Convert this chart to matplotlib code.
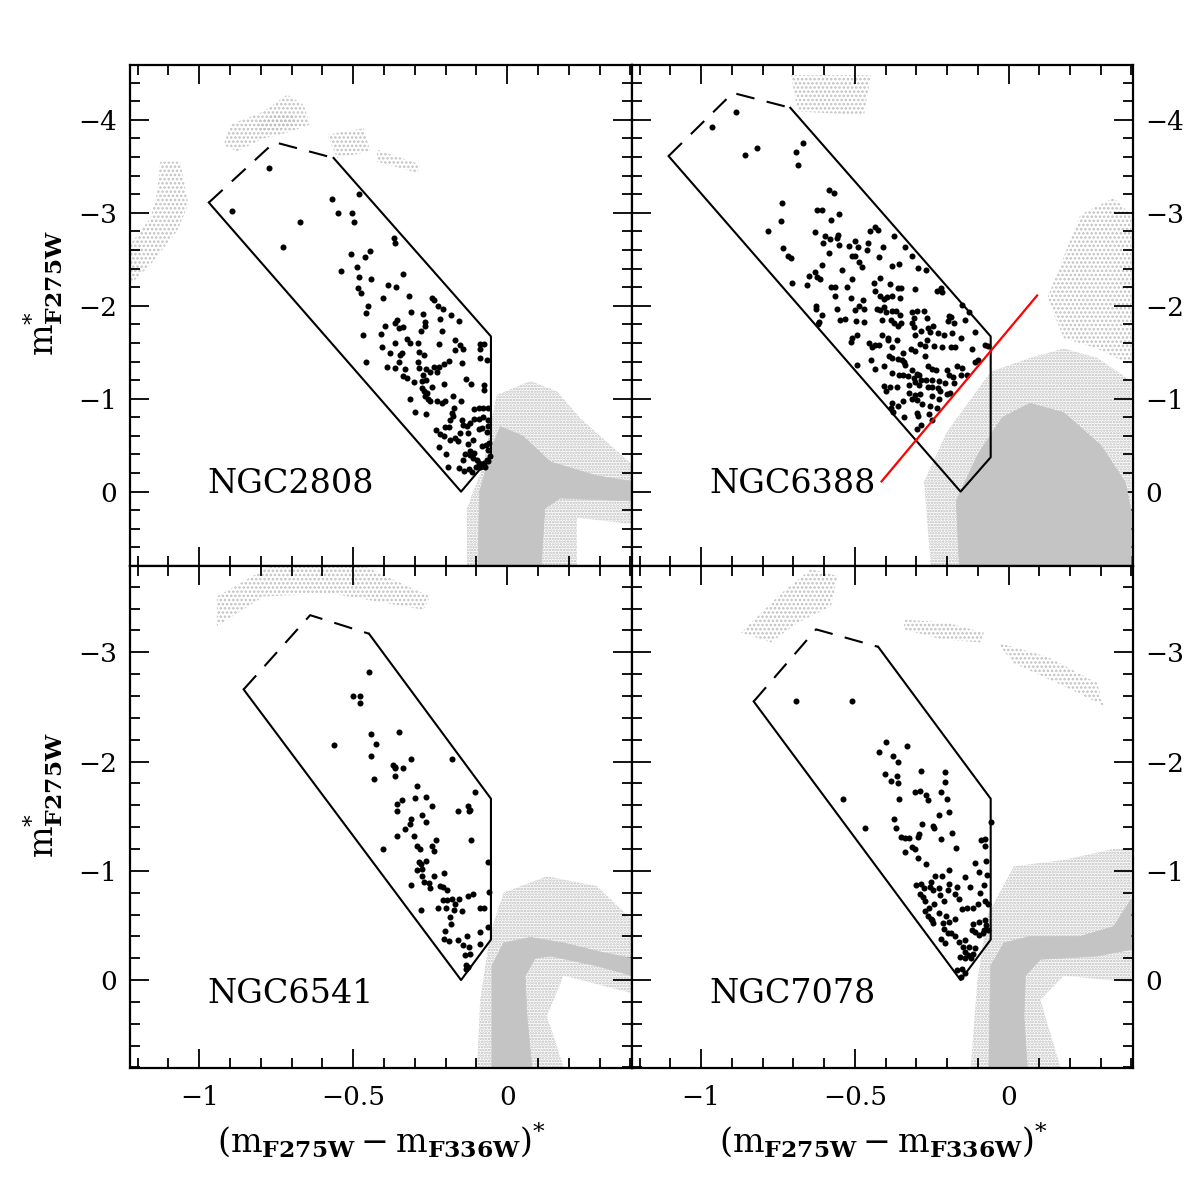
import numpy as np
import matplotlib
matplotlib.use('Agg')
import matplotlib.pyplot as plt
from matplotlib.patches import Polygon
from matplotlib.ticker import MultipleLocator, FixedLocator, FixedFormatter

plt.rcParams['font.family'] = 'DejaVu Serif'
plt.rcParams['mathtext.fontset'] = 'dejavuserif'
plt.rcParams['hatch.linewidth'] = 1.2

# ---------------- NGC2808 ----------------
n2808_stars = [(-0.569,-3.15),(-0.483,-3.20),(-0.672,-2.90),(-0.551,-3.00),(-0.505,-3.00),(-0.497,-2.90),
    (-0.728,-2.63),(-0.368,-2.73),(-0.366,-2.67),(-0.508,-2.56),(-0.447,-2.59),(-0.463,-2.52),(-0.540,-2.37),
    (-0.488,-2.42),(-0.481,-2.31),(-0.443,-2.29),(-0.340,-2.34),(-0.387,-2.22),(-0.360,-2.20),(-0.485,-2.19),
    (-0.474,-2.14),(-0.402,-2.08),(-0.319,-2.11),(-0.453,-2.00),(-0.460,-1.92),(-0.245,-2.08),(-0.237,-2.06),
    (-0.225,-2.00),(-0.210,-1.96),(-0.311,-1.93),(-0.275,-1.91),(-0.184,-1.90),(-0.158,-1.84),(-0.218,-1.86),
    (-0.358,-1.85),(-0.364,-1.81),(-0.352,-1.76),(-0.339,-1.77),(-0.397,-1.78),(-0.266,-1.82),(-0.268,-1.78),
    (-0.280,-1.73),(-0.212,-1.73),(-0.469,-1.69),(-0.409,-1.70),(-0.326,-1.64),(-0.317,-1.60),(-0.289,-1.60),
    (-0.363,-1.60),(-0.222,-1.59),(-0.169,-1.63),(-0.154,-1.58),(-0.407,-1.56),(-0.087,-1.59),(-0.076,-1.59),
    (-0.380,-1.49),(-0.347,-1.47),(-0.342,-1.49),(-0.286,-1.50),(-0.272,-1.47),(-0.169,-1.52),(-0.144,-1.53),
    (-0.090,-1.53),(-0.089,-1.44),(-0.065,-1.42),(-0.148,-1.38),(-0.189,-1.41),(-0.205,-1.37),(-0.223,-1.34),
    (-0.239,-1.34),(-0.289,-1.39),(-0.352,-1.39),(-0.391,-1.34),(-0.364,-1.33),(-0.331,-1.32),(-0.459,-1.39),
    (-0.285,-1.33),(-0.264,-1.32),(-0.250,-1.29),(-0.228,-1.29),(-0.274,-1.25),(-0.337,-1.24),(-0.326,-1.22),
    (-0.263,-1.20),(-0.277,-1.19),(-0.302,-1.18),(-0.245,-1.13),(-0.207,-1.16),(-0.133,-1.21),(-0.118,-1.16),
    (-0.075,-1.15),(-0.076,-1.09),(-0.277,-1.11),(-0.272,-1.08),(-0.261,-1.06),(-0.267,-1.03),(-0.259,-1.00),
    (-0.252,-0.97),(-0.228,-0.97),(-0.212,-0.95),(-0.201,-0.97),(-0.176,-1.03),(-0.150,-0.98),(-0.316,-1.00),
    (-0.299,-0.86),(-0.264,-0.83),(-0.172,-0.90),(-0.180,-0.85),(-0.176,-0.81),(-0.185,-0.77),(-0.109,-0.89),
    (-0.093,-0.90),(-0.079,-0.90),(-0.061,-0.90),(-0.109,-0.78),(-0.093,-0.78),(-0.080,-0.80),(-0.064,-0.77),
    (-0.147,-0.77),(-0.144,-0.72),(-0.131,-0.71),(-0.120,-0.74),(-0.203,-0.70),(-0.190,-0.70),(-0.231,-0.66),
    (-0.218,-0.62),(-0.207,-0.60),(-0.185,-0.56),(-0.169,-0.58),(-0.153,-0.63),(-0.160,-0.55),(-0.129,-0.63),
    (-0.111,-0.56),(-0.093,-0.67),(-0.083,-0.68),(-0.061,-0.71),(-0.065,-0.64),(-0.221,-0.48),(-0.198,-0.40),
    (-0.129,-0.51),(-0.120,-0.44),(-0.107,-0.42),(-0.082,-0.49),(-0.068,-0.50),(-0.058,-0.52),(-0.061,-0.45),
    (-0.194,-0.27),(-0.144,-0.34),(-0.136,-0.41),(-0.122,-0.39),(-0.111,-0.36),(-0.098,-0.34),(-0.093,-0.31),
    (-0.082,-0.28),(-0.071,-0.27),(-0.061,-0.33),(-0.158,-0.25),(-0.142,-0.22),(-0.124,-0.24),(-0.113,-0.21),
    (-0.101,-0.27),(-0.090,-0.27),(-0.076,-0.31),(-0.066,-0.34),(-0.055,-0.38),(-0.774,-3.48),(-0.894,-3.02)]
n2808_box = [(-0.969,-3.11),(-0.756,-3.76),(-0.564,-3.59),(-0.053,-1.67),(-0.053,-0.38),(-0.150,0.00)]
n2808_core = [(-0.050,-0.47),(-0.090,0.00),(-0.095,0.80),(0.110,0.80),(0.122,0.18),(0.172,0.07),(0.406,0.10),
    (0.406,-0.11),(0.291,-0.17),(0.140,-0.32),(0.050,-0.60),(-0.023,-0.70)]
n2808_halo = [(-0.055,-0.72),(-0.034,-1.04),(0.075,-1.19),(0.161,-1.08),(0.237,-0.79),(0.406,-0.29),(0.406,0.35),
    (0.226,0.28),(0.226,0.80),(-0.131,0.80),(-0.131,0.18),(-0.077,-0.29)]
n2808_sparse = [
    [(-0.921,-3.73),(-0.899,-3.95),(-0.791,-4.09),(-0.715,-4.27),(-0.661,-4.16),(-0.640,-3.95),(-0.705,-3.87),(-0.791,-3.80),(-0.878,-3.66)],
    [(-0.813,-3.98),(-0.759,-4.05),(-0.694,-4.05),(-0.683,-3.95),(-0.748,-3.89),(-0.802,-3.89)],
    [(-1.127,-3.55),(-1.062,-3.55),(-1.035,-3.09),(-1.073,-2.80),(-1.159,-2.44),(-1.224,-2.23),(-1.224,-2.66),(-1.159,-2.94),(-1.137,-3.22)],
    [(-0.585,-3.84),(-0.466,-3.91),(-0.445,-3.66),(-0.553,-3.59)],
    [(-0.423,-3.68),(-0.282,-3.52),(-0.293,-3.43),(-0.423,-3.55)]]

# ---------------- NGC6388 ----------------
n6388_stars = [(-0.887,-4.08),(-0.965,-3.92),(-0.858,-3.62),(-0.817,-3.70),(-0.693,-3.65),(-0.669,-3.75),
    (-0.686,-3.51),(-0.584,-3.24),(-0.569,-3.21),(-0.736,-3.10),(-0.741,-2.91),(-0.782,-2.80),(-0.734,-2.62),
    (-0.716,-2.54),(-0.709,-2.51),(-0.703,-2.25),(-0.622,-3.03),(-0.608,-3.03),(-0.550,-2.99),(-0.576,-2.92),
    (-0.631,-2.79),(-0.597,-2.75),(-0.582,-2.72),(-0.554,-2.76),(-0.557,-2.73),(-0.603,-2.68),(-0.552,-2.65),
    (-0.584,-2.57),(-0.498,-2.70),(-0.519,-2.64),(-0.489,-2.63),(-0.509,-2.53),(-0.498,-2.53),(-0.458,-2.68),
    (-0.460,-2.60),(-0.452,-2.80),(-0.433,-2.85),(-0.424,-2.81),(-0.373,-2.75),(-0.408,-2.63),(-0.338,-2.63),
    (-0.422,-2.52),(-0.314,-2.53),(-0.379,-2.43),(-0.357,-2.45),(-0.485,-2.47),(-0.476,-2.42),(-0.294,-2.41),
    (-0.267,-2.38),(-0.608,-2.44),(-0.630,-2.36),(-0.649,-2.32),(-0.624,-2.31),(-0.614,-2.29),(-0.655,-2.22),
    (-0.543,-2.38),(-0.509,-2.29),(-0.579,-2.20),(-0.563,-2.20),(-0.525,-2.20),(-0.438,-2.24),(-0.419,-2.30),
    (-0.433,-2.16),(-0.387,-2.23),(-0.359,-2.19),(-0.351,-2.19),(-0.304,-2.18),(-0.233,-2.16),(-0.220,-2.19),
    (-0.215,-2.15),(-0.563,-2.11),(-0.514,-2.08),(-0.474,-2.06),(-0.487,-2.00),(-0.471,-1.96),(-0.500,-1.95),
    (-0.417,-2.11),(-0.406,-2.07),(-0.395,-2.09),(-0.379,-2.11),(-0.352,-2.08),(-0.406,-1.99),(-0.427,-1.97),
    (-0.417,-1.95),(-0.400,-1.93),(-0.379,-1.94),(-0.366,-1.94),(-0.352,-1.90),(-0.314,-1.93),(-0.297,-1.94),
    (-0.276,-1.94),(-0.308,-1.87),(-0.265,-1.87),(-0.557,-1.97),(-0.626,-2.00),(-0.626,-1.96),(-0.606,-1.90),
    (-0.547,-1.85),(-0.532,-1.86),(-0.496,-1.84),(-0.470,-1.83),(-0.617,-1.82),(-0.619,-1.80),(-0.411,-1.85),
    (-0.381,-1.85),(-0.373,-1.81),(-0.359,-1.78),(-0.351,-1.81),(-0.314,-1.81),(-0.308,-1.77),(-0.198,-1.84),
    (-0.187,-1.88),(-0.179,-1.81),(-0.143,-1.85),(-0.193,-1.89),(-0.152,-2.01),(-0.128,-1.93),(-0.246,-1.78),
    (-0.262,-1.76),(-0.284,-1.73),(-0.254,-1.72),(-0.229,-1.71),(-0.211,-1.69),(-0.184,-1.71),(-0.156,-1.65),
    (-0.108,-1.72),(-0.303,-1.68),(-0.265,-1.63),(-0.413,-1.69),(-0.393,-1.65),(-0.363,-1.63),(-0.392,-1.63),
    (-0.509,-1.65),(-0.492,-1.69),(-0.514,-1.61),(-0.455,-1.60),(-0.435,-1.58),(-0.444,-1.56),(-0.420,-1.58),
    (-0.379,-1.56),(-0.316,-1.53),(-0.303,-1.51),(-0.271,-1.57),(-0.241,-1.57),(-0.289,-1.59),(-0.216,-1.56),
    (-0.187,-1.56),(-0.173,-1.56),(-0.119,-1.53),(-0.100,-1.42),(-0.110,-1.40),(-0.076,-1.58),(-0.067,-1.57),
    (-0.448,-1.42),(-0.435,-1.32),(-0.405,-1.35),(-0.390,-1.46),(-0.379,-1.44),(-0.361,-1.43),(-0.344,-1.49),
    (-0.348,-1.42),(-0.341,-1.40),(-0.338,-1.36),(-0.314,-1.31),(-0.297,-1.27),(-0.271,-1.46),(-0.262,-1.35),
    (-0.249,-1.32),(-0.236,-1.31),(-0.200,-1.31),(-0.169,-1.35),(-0.152,-1.33),(-0.193,-1.26),(-0.182,-1.23),
    (-0.154,-1.25),(-0.134,-1.25),(-0.379,-1.28),(-0.357,-1.25),(-0.343,-1.26),(-0.327,-1.24),(-0.308,-1.22),
    (-0.292,-1.26),(-0.284,-1.20),(-0.268,-1.20),(-0.249,-1.20),(-0.227,-1.19),(-0.208,-1.17),(-0.177,-1.17),
    (-0.325,-1.15),(-0.305,-1.18),(-0.292,-1.15),(-0.405,-1.14),(-0.400,-1.08),(-0.384,-1.13),(-0.363,-1.13),
    (-0.325,-1.06),(-0.303,-1.04),(-0.287,-1.05),(-0.262,-1.13),(-0.249,-1.13),(-0.229,-1.11),(-0.222,-1.08),
    (-0.200,-1.05),(-0.189,-1.06),(-0.249,-1.03),(-0.225,-1.00),(-0.344,-0.97),(-0.314,-1.00),(-0.297,-0.99),
    (-0.281,-0.94),(-0.254,-0.92),(-0.233,-0.90),(-0.379,-0.95),(-0.381,-0.90),(-0.359,-0.92),(-0.376,-0.86),
    (-0.341,-0.80),(-0.298,-0.85),(-0.294,-0.81),(-0.260,-0.83),(-0.284,-0.72),(-0.298,-0.67),(-0.249,-0.77),
    (-0.492,-1.36)]
n6388_box = [(-1.106,-3.61),(-0.897,-4.29),(-0.710,-4.13),(-0.058,-1.67),(-0.058,-0.37),(-0.156,0.00)]
n6388_cut = [(-0.413,-0.11),(0.093,-2.11)]
n6388_core = [(-0.160,0.80),(-0.170,0.10),(-0.100,-0.40),(-0.020,-0.80),(0.070,-0.95),(0.180,-0.85),(0.300,-0.50),
    (0.380,-0.10),(0.399,0.20),(0.399,0.80)]
n6388_halo = [(-0.253,0.80),(-0.275,-0.11),(-0.199,-0.65),(-0.058,-1.29),(0.071,-1.44),(0.180,-1.54),(0.288,-1.44),
    (0.399,-1.19),(0.399,0.80)]
n6388_sparse = [
    [(0.126,-2.08),(0.234,-2.98),(0.342,-3.16),(0.399,-2.98),(0.399,-1.36),(0.288,-1.54),(0.180,-1.65)],
    [(-0.708,-4.48),(-0.448,-4.48),(-0.470,-4.05),(-0.686,-4.09)]]

# ---------------- NGC6541 ----------------
n6541_stars = [(-0.448,-2.82),(-0.502,-2.60),(-0.479,-2.60),(-0.477,-2.54),(-0.564,-2.15),(-0.444,-2.25),
    (-0.350,-2.27),(-0.425,-2.16),(-0.444,-2.05),(-0.433,-1.84),(-0.371,-1.97),(-0.366,-1.95),(-0.363,-1.94),
    (-0.337,-1.94),(-0.366,-1.87),(-0.311,-2.02),(-0.180,-2.02),(-0.294,-1.78),(-0.106,-1.72),(-0.358,-1.61),
    (-0.357,-1.55),(-0.341,-1.65),(-0.300,-1.67),(-0.265,-1.68),(-0.245,-1.59),(-0.161,-1.55),(-0.126,-1.59),
    (-0.123,-1.55),(-0.120,-1.56),(-0.278,-1.51),(-0.263,-1.45),(-0.312,-1.47),(-0.317,-1.43),(-0.332,-1.38),
    (-0.358,-1.32),(-0.304,-1.32),(-0.293,-1.23),(-0.282,-1.20),(-0.245,-1.23),(-0.231,-1.28),(-0.239,-1.18),
    (-0.117,-1.28),(-0.405,-1.20),(-0.285,-1.08),(-0.280,-1.06),(-0.265,-1.09),(-0.293,-1.01),(-0.276,-1.02),
    (-0.278,-0.95),(-0.269,-0.90),(-0.254,-0.89),(-0.314,-0.87),(-0.239,-0.95),(-0.250,-0.84),(-0.220,-0.86),
    (-0.209,-0.85),(-0.206,-0.98),(-0.196,-0.82),(-0.061,-1.08),(-0.058,-0.81),(-0.126,-0.77),(-0.111,-0.79),
    (-0.279,-0.64),(-0.226,-0.66),(-0.210,-0.73),(-0.196,-0.73),(-0.180,-0.74),(-0.158,-0.74),(-0.199,-0.66),
    (-0.169,-0.70),(-0.174,-0.64),(-0.148,-0.63),(-0.185,-0.58),(-0.182,-0.51),(-0.088,-0.66),(-0.075,-0.66),
    (-0.201,-0.45),(-0.206,-0.38),(-0.189,-0.36),(-0.159,-0.37),(-0.131,-0.40),(-0.143,-0.32),(-0.123,-0.30),
    (-0.087,-0.44),(-0.087,-0.33),(-0.061,-0.49),(-0.136,-0.23),(-0.122,-0.24),(-0.133,-0.14),(-0.129,-0.12),
    (-0.134,-0.10)]
n6541_box = [(-0.856,-2.66),(-0.640,-3.34),(-0.449,-3.17),(-0.053,-1.66),(-0.053,-0.37),(-0.150,0.00)]
n6541_core = [(-0.050,0.80),(-0.050,-0.13),(-0.012,-0.34),(0.075,-0.39),(0.183,-0.34),(0.313,-0.25),(0.406,-0.20),
    (0.406,-0.04),(0.291,-0.13),(0.140,-0.22),(0.091,-0.20),(0.058,-0.04),(0.064,0.33),(0.080,0.80)]
n6541_halo = [(-0.098,0.80),(-0.088,0.18),(-0.055,-0.43),(-0.012,-0.80),(0.129,-0.95),(0.291,-0.86),(0.406,-0.55),
    (0.406,0.12),(0.183,-0.04),(0.129,0.33),(0.183,0.80)]
n6541_sparse = [
    [(-0.943,-3.51),(-0.770,-3.79),(-0.466,-3.79),(-0.250,-3.51),(-0.272,-3.39),(-0.575,-3.54),(-0.791,-3.51),(-0.943,-3.24)]]

# ---------------- NGC7078 ----------------
n7078_stars = [(-0.398,-2.18),(-0.422,-2.09),(-0.329,-2.14),(-0.377,-2.05),(-0.359,-2.00),(-0.403,-1.89),
    (-0.363,-1.87),(-0.285,-1.91),(-0.206,-1.90),(-0.381,-1.82),(-0.361,-1.80),(-0.206,-1.81),(-0.305,-1.72),
    (-0.287,-1.73),(-0.268,-1.69),(-0.263,-1.65),(-0.221,-1.72),(-0.199,-1.66),(-0.356,-1.66),(-0.539,-1.66),
    (-0.466,-1.39),(-0.371,-1.47),(-0.367,-1.39),(-0.282,-1.43),(-0.290,-1.34),(-0.293,-1.31),(-0.247,-1.41),
    (-0.241,-1.39),(-0.226,-1.51),(-0.195,-1.54),(-0.185,-1.35),(-0.220,-1.29),(-0.170,-1.21),(-0.351,-1.31),
    (-0.338,-1.30),(-0.325,-1.30),(-0.314,-1.22),(-0.303,-1.20),(-0.337,-1.17),(-0.295,-1.12),(-0.268,-1.06),
    (-0.090,-1.28),(-0.076,-1.29),(-0.076,-1.23),(-0.058,-1.45),(-0.108,-1.07),(-0.073,-1.09),(-0.097,-0.99),
    (-0.071,-0.96),(-0.140,-0.94),(-0.194,-1.01),(-0.218,-0.95),(-0.240,-0.95),(-0.252,-0.90),(-0.256,-0.85),
    (-0.301,-0.87),(-0.284,-0.88),(-0.274,-0.84),(-0.288,-0.79),(-0.279,-0.76),(-0.246,-0.82),(-0.225,-0.84),
    (-0.222,-0.78),(-0.198,-0.82),(-0.194,-0.88),(-0.167,-0.85),(-0.174,-0.79),(-0.160,-0.74),(-0.124,-0.85),
    (-0.093,-0.80),(-0.080,-0.87),(-0.211,-0.72),(-0.244,-0.70),(-0.271,-0.72),(-0.260,-0.66),(-0.272,-0.63),
    (-0.262,-0.59),(-0.252,-0.56),(-0.226,-0.61),(-0.203,-0.59),(-0.214,-0.52),(-0.193,-0.53),(-0.175,-0.56),
    (-0.152,-0.65),(-0.135,-0.66),(-0.114,-0.66),(-0.100,-0.70),(-0.076,-0.72),(-0.067,-0.70),(-0.076,-0.55),
    (-0.074,-0.50),(-0.068,-0.46),(-0.083,-0.43),(-0.097,-0.53),(-0.117,-0.51),(-0.120,-0.46),(-0.108,-0.44),
    (-0.097,-0.41),(-0.080,-0.46),(-0.219,-0.38),(-0.197,-0.43),(-0.186,-0.43),(-0.206,-0.34),(-0.173,-0.40),
    (-0.160,-0.35),(-0.143,-0.37),(-0.149,-0.30),(-0.130,-0.30),(-0.141,-0.26),(-0.132,-0.23),(-0.117,-0.24),
    (-0.108,-0.29),(-0.157,-0.21),(-0.141,-0.20),(-0.123,-0.20),(-0.168,-0.09),(-0.152,-0.10),(-0.143,-0.06),
    (-0.155,-0.03),(-0.211,-0.47),(-0.246,-0.52),(-0.250,-0.55),(-0.692,-2.55),(-0.510,-2.55)]
n7078_box = [(-0.829,-2.55),(-0.626,-3.21),(-0.424,-3.05),(-0.058,-1.66),(-0.058,-0.37),(-0.156,0.00)]
n7078_core = [(-0.064,0.80),(-0.058,-0.13),(-0.015,-0.34),(0.071,-0.40),(0.234,-0.40),(0.342,-0.49),(0.399,-0.74),
    (0.399,-0.28),(0.288,-0.22),(0.104,-0.19),(0.055,-0.04),(0.050,0.33),(0.061,0.80)]
n7078_halo = [(-0.123,0.80),(-0.102,0.02),(-0.069,-0.59),(0.017,-1.04),(0.180,-1.10),(0.342,-1.20),(0.399,-1.20),
    (0.399,0.02),(0.180,-0.04),(0.104,0.18),(0.169,0.80)]
n7078_sparse = [
    [(-0.870,-3.18),(-0.740,-3.54),(-0.643,-3.76),(-0.556,-3.70),(-0.578,-3.42),(-0.686,-3.27),(-0.773,-3.09)],
    [(-0.340,-3.30),(-0.199,-3.27),(-0.080,-3.18),(-0.091,-3.09),(-0.221,-3.12),(-0.340,-3.21)],
    [(-0.037,-3.09),(0.126,-2.96),(0.288,-2.72),(0.310,-2.51),(0.180,-2.69),(0.017,-2.90)]]

names = ['NGC2808', 'NGC6388', 'NGC6541', 'NGC7078']
stars = [n2808_stars, n6388_stars, n6541_stars, n7078_stars]
boxes = [n2808_box, n6388_box, n6541_box, n7078_box]
cores = [n2808_core, n6388_core, n6541_core, n7078_core]
halos = [n2808_halo, n6388_halo, n6541_halo, n7078_halo]
sparses = [n2808_sparse, n6388_sparse, n6541_sparse, n7078_sparse]

xlim = (-1.225, 0.405)
ylims = [(0.80, -4.59), (0.80, -4.59), (0.805, -3.79), (0.805, -3.79)]
yticks = [[-4, -3, -2, -1, 0], [-4, -3, -2, -1, 0], [-3, -2, -1, 0], [-3, -2, -1, 0]]

# panel boxes in figure fraction
L, M, R = 130/1196, 632/1196, 1133/1196
T, C, B = 1-65/1196, 1-566/1196, 1-1068/1196
rects = [[L, C, M-L, T-C], [M, C, R-M, T-C], [L, B, M-L, C-B], [M, B, R-M, C-B]]

gray = '#c4c4c4'
fig = plt.figure(figsize=(11.96, 11.96), dpi=100)

for i in range(4):
	ax = fig.add_axes(rects[i])
	ax.add_patch(Polygon(halos[i], closed=True, facecolor='none', edgecolor='#bcbcbc', hatch='......', lw=0, zorder=1))
	for sp in sparses[i]:
		ax.add_patch(Polygon(sp, closed=True, facecolor='none', edgecolor='#c0c0c0', hatch='....', lw=0, zorder=1))
	ax.add_patch(Polygon(cores[i], closed=True, facecolor=gray, edgecolor=gray, lw=0.5, zorder=2))

	bx = [p[0] for p in boxes[i]]
	by = [p[1] for p in boxes[i]]
	ax.plot(bx[:3], by[:3], color='k', lw=1.5, dashes=(9, 6), zorder=3)
	ax.plot(bx[2:] + [bx[0]], by[2:] + [by[0]], color='k', lw=1.5, zorder=3)

	sx = [p[0] for p in stars[i]]
	sy = [p[1] for p in stars[i]]
	ax.scatter(sx, sy, s=19, color='k', linewidths=0, zorder=4)

	if i == 1:
		ax.plot([p[0] for p in n6388_cut], [p[1] for p in n6388_cut], color='red', lw=1.6, zorder=5)

	ax.text(0.155, 0.146 if i < 2 else 0.129, names[i], transform=ax.transAxes, fontsize=24,
			ha='left', va='baseline')

	ax.set_xlim(*xlim)
	ax.set_ylim(*ylims[i])
	ax.xaxis.set_major_locator(FixedLocator([-1, -0.5, 0]))
	ax.xaxis.set_major_formatter(FixedFormatter(['\u22121', '\u22120.5', '0']))
	ax.xaxis.set_minor_locator(MultipleLocator(0.1))
	ax.yaxis.set_major_locator(FixedLocator(yticks[i]))
	ax.yaxis.set_major_formatter(FixedFormatter([('\u2212%d' % -v) if v < 0 else '0' for v in yticks[i]]))
	ax.yaxis.set_minor_locator(MultipleLocator(0.2))
	ax.tick_params(which='both', direction='in', top=True, right=True, width=1.3, labelsize=19)
	ax.tick_params(which='major', length=14)
	ax.tick_params(which='minor', length=7)
	ax.tick_params(axis='x', pad=12)
	ax.tick_params(axis='y', pad=9)
	ax.tick_params(labelbottom=(i >= 2), labelleft=(i % 2 == 0), labelright=(i % 2 == 1))
	for s in ax.spines.values():
		s.set_linewidth(1.6)

ylab = r'$\mathrm{m}^{*}_{\mathbf{F275W}}$'
fig.text(0.036, 0.755, ylab, rotation=90, ha='center', va='center', fontsize=24)
fig.text(0.036, 0.335, ylab, rotation=90, ha='center', va='center', fontsize=24)
xlab = r'$(\mathrm{m}_{\mathbf{F275W}}-\mathrm{m}_{\mathbf{F336W}})^{*}$'
fig.text(0.319, 0.047, xlab, ha='center', va='center', fontsize=24)
fig.text(0.739, 0.047, xlab, ha='center', va='center', fontsize=24)

fig.savefig('out.png', dpi=100)
